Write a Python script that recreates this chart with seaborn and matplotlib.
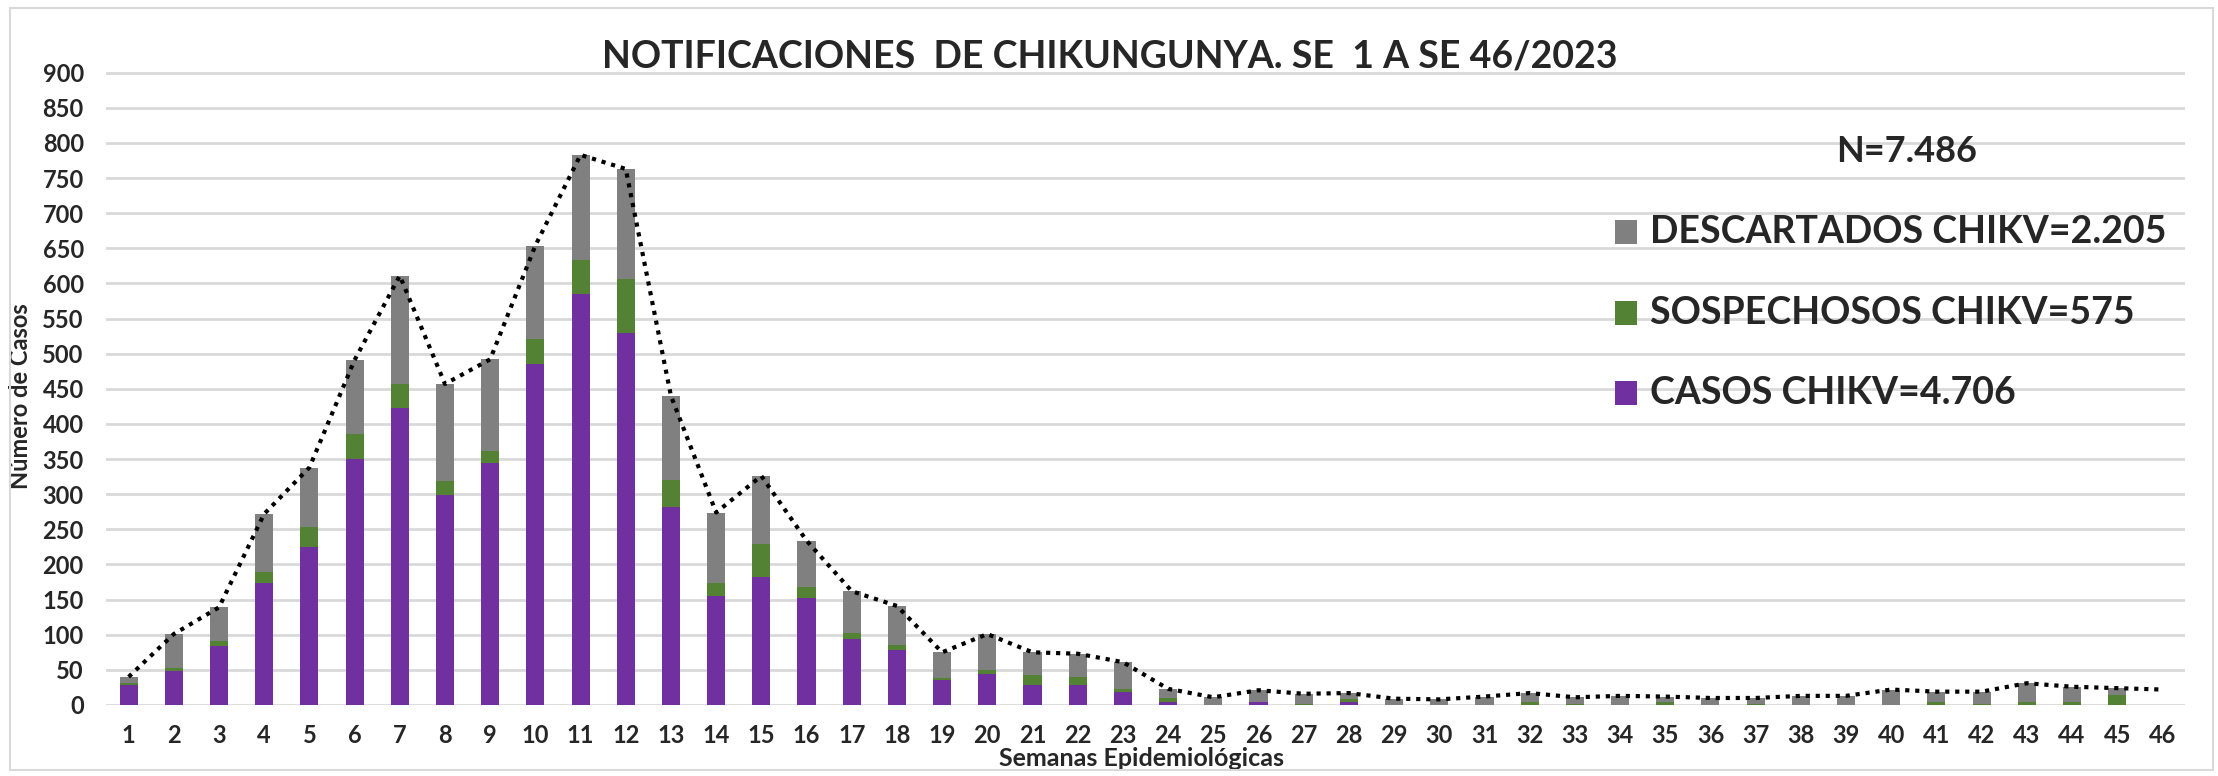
import matplotlib
matplotlib.use("Agg")
import matplotlib.pyplot as plt
from matplotlib.patches import Rectangle
import numpy as np
import seaborn as sns

# semanas epidemiologicas 1..46
semanas = [str(s) for s in range(1, 47)]

casos = [29, 48, 84, 174, 225, 350, 423, 299, 344, 485,
         585, 529, 282, 155, 182, 152, 94, 78, 36, 44,
         29, 29, 19, 4, 0, 4, 0, 4, 0, 0,
         0, 0, 0, 0, 0, 0, 0, 0, 0, 0,
         0, 0, 0, 0, 0, 0]
sospechosos = [2, 4, 7, 15, 28, 36, 34, 20, 18, 36,
               49, 77, 38, 18, 47, 16, 9, 7, 3, 6,
               13, 11, 4, 6, 0, 0, 2, 4, 0, 0,
               0, 4, 1, 0, 4, 0, 2, 0, 0, 0,
               4, 2, 4, 4, 14, 0]
descartados = [9, 49, 48, 83, 85, 105, 154, 138, 130, 133,
               149, 157, 120, 101, 97, 66, 59, 56, 36, 51,
               33, 33, 38, 13, 11, 17, 14, 9, 9, 8,
               12, 13, 10, 13, 8, 10, 8, 13, 13, 22,
               15, 17, 27, 22, 10, 0]
# linea punteada (total notificado por semana)
total_linea = [40, 101, 139, 272, 338, 491, 611, 457, 492, 654,
               783, 763, 440, 274, 326, 234, 162, 141, 75, 101,
               75, 73, 61, 23, 11, 21, 16, 17, 9, 8,
               12, 17, 11, 13, 12, 10, 10, 13, 13, 22,
               19, 19, 31, 26, 24, 22]

titulo = "NOTIFICACIONES  DE CHIKUNGUNYA. SE  1 A SE 46/2023"
leyenda = ["DESCARTADOS CHIKV=2.205", "SOSPECHOSOS CHIKV=575", "CASOS CHIKV=4.706"]
n_total = "N=7.486"

c_casos = "#7030A0"
c_sosp = "#548235"
c_desc = "#808080"

sns.set_style("white")
plt.rcParams["font.family"] = ["Lato", "DejaVu Sans"]
plt.rcParams["font.weight"] = "bold"

W, H = 2218, 776
fig = plt.figure(figsize=(W / 100, H / 100), dpi=100)
ax = fig.add_axes([106 / W, 1 - 705 / H, (2185 - 106) / W, (705 - 72) / H])

c = np.array(casos)
s = np.array(sospechosos)
d = np.array(descartados)

sns.barplot(x=semanas, y=c + s + d, color=c_desc, saturation=1, width=0.4,
            linewidth=0, ax=ax)
sns.barplot(x=semanas, y=c + s, color=c_sosp, saturation=1, width=0.4,
            linewidth=0, ax=ax)
sns.barplot(x=semanas, y=c, color=c_casos, saturation=1, width=0.4,
            linewidth=0, ax=ax)
sns.lineplot(x=np.arange(len(semanas)), y=total_linea, color="black",
             linewidth=3, linestyle=(0, (1, 1.4)), legend=False, ax=ax)

ax.set_xlim(-0.5, 45.5)
ax.set_ylim(0, 901)
ax.set_yticks(range(0, 901, 50))
ax.set_xticks(range(len(semanas)))
ax.set_xticklabels(semanas)
ax.yaxis.grid(True, color="#D9D9D9", linewidth=2)
ax.set_axisbelow(True)
for sp in ax.spines.values():
    sp.set_visible(False)
ax.tick_params(axis="both", length=0, labelsize=17)
ax.tick_params(axis="y", pad=16)
ax.tick_params(axis="x", pad=14)
plt.setp(ax.get_xticklabels() + ax.get_yticklabels(), fontweight="bold")

ax.set_ylabel("Número de Casos", fontsize=17, fontweight="bold")
ax.yaxis.set_label_coords(-0.041, 0.488)
ax.yaxis.label.set_va("center")
ax.set_xlabel("Semanas Epidemiológicas", fontsize=18, fontweight="bold")
ax.xaxis.set_label_coords(0.498, -0.084)
ax.xaxis.label.set_va("center")

fig.text(1110 / W, 1 - 57 / H, titulo, ha="center", va="center",
         fontsize=27, fontweight="bold")
fig.text(1907 / W, 1 - 151 / H, n_total, ha="center", va="center",
         fontsize=26, fontweight="bold")

for lab, col, yc in zip(leyenda, [c_desc, c_sosp, c_casos], [232, 313, 393]):
    fig.patches.append(Rectangle((1615 / W, 1 - (yc + 12) / H), 22 / W, 24 / H,
                                 transform=fig.transFigure, facecolor=col,
                                 edgecolor="none"))
    fig.text(1650 / W, 1 - yc / H, lab, ha="left", va="center",
             fontsize=27, fontweight="bold")

fig.patches.append(Rectangle((10 / W, 1 - 770 / H), 2203 / W, 762 / H,
                             transform=fig.transFigure, facecolor="none",
                             edgecolor="#D9D9D9", linewidth=1.5))

fig.savefig("out.png", dpi=100, facecolor="white")
